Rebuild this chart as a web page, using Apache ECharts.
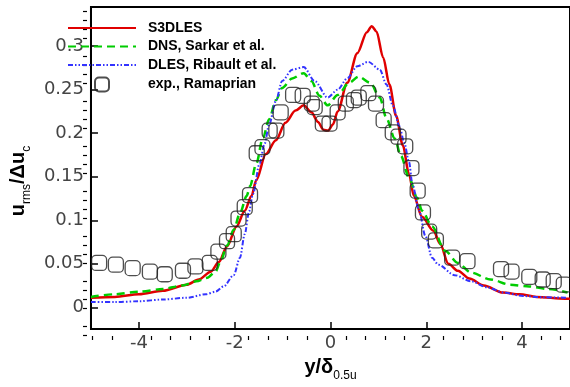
<!DOCTYPE html>
<html>
<head>
<meta charset="utf-8">
<script src="https://cdn.jsdelivr.net/npm/echarts@6/dist/echarts.min.js"></script>
<style>
  html, body { margin: 0; padding: 0; background: #fff; }
  #chart { width: 570px; height: 387px; }
</style>
</head>
<body>
<div id="chart"></div>
<script>
// Streamwise rms velocity across the shear layer, u_rms/Δu_c vs y/δ_0.5u
const seriesNames = ['S3DLES', 'DNS, Sarkar et al.', 'DLES, Ribault et al.', 'exp., Ramaprian'];

const s3dlesY = [-5.0, -4.5, -4.0, -3.5, -3.0, -2.75, -2.5, -2.33, -2.16, -1.96, -1.79, -1.65, -1.55, -1.35, -1.14, -0.94, -0.73, -0.56, -0.40, -0.26, -0.15, -0.05, 0.05, 0.15, 0.35, 0.56, 0.76, 0.86, 0.96, 1.10, 1.23, 1.37, 1.51, 1.64, 1.74, 1.91, 2.15, 2.29, 2.46, 2.66, 2.90, 3.2, 3.6, 3.95, 4.3, 4.9, 5.0];
const s3dlesU = [0.011, 0.012, 0.015, 0.019, 0.026, 0.032, 0.041, 0.052, 0.070, 0.093, 0.111, 0.128, 0.146, 0.176, 0.192, 0.212, 0.226, 0.232, 0.224, 0.213, 0.204, 0.203, 0.210, 0.225, 0.258, 0.292, 0.316, 0.323, 0.317, 0.287, 0.256, 0.220, 0.186, 0.153, 0.128, 0.104, 0.088, 0.073, 0.050, 0.042, 0.033, 0.025, 0.017, 0.015, 0.012, 0.010, 0.010];

const dnsY = [-5.0, -4.5, -4.0, -3.5, -3.1, -2.8, -2.57, -2.40, -2.30, -2.16, -2.02, -1.89, -1.75, -1.68, -1.55, -1.41, -1.28, -1.14, -1.01, -0.80, -0.56, -0.40, -0.23, -0.06, 0.15, 0.39, 0.59, 0.83, 1.03, 1.17, 1.34, 1.47, 1.64, 1.81, 1.91, 2.12, 2.39, 2.66, 2.93, 3.34, 3.75, 4.15, 4.56, 4.95];
const dnsU = [0.012, 0.015, 0.018, 0.021, 0.025, 0.030, 0.034, 0.041, 0.052, 0.071, 0.089, 0.108, 0.128, 0.139, 0.165, 0.195, 0.216, 0.238, 0.252, 0.263, 0.269, 0.260, 0.243, 0.232, 0.244, 0.258, 0.265, 0.258, 0.241, 0.217, 0.194, 0.174, 0.149, 0.126, 0.111, 0.093, 0.065, 0.051, 0.040, 0.032, 0.026, 0.024, 0.021, 0.017];

const dlesY = [-5.0, -4.5, -4.0, -3.5, -3.0, -2.6, -2.4, -2.23, -2.02, -1.89, -1.79, -1.70, -1.62, -1.48, -1.38, -1.28, -1.14, -1.01, -0.80, -0.56, -0.33, -0.06, 0.15, 0.35, 0.56, 0.79, 1.03, 1.17, 1.30, 1.44, 1.54, 1.64, 1.71, 1.85, 1.98, 2.12, 2.25, 2.59, 2.93, 3.27, 3.61, 4.02, 4.43, 4.95];
const dlesU = [0.006, 0.006, 0.007, 0.009, 0.011, 0.015, 0.018, 0.024, 0.037, 0.057, 0.084, 0.110, 0.130, 0.165, 0.187, 0.210, 0.237, 0.260, 0.273, 0.276, 0.260, 0.241, 0.250, 0.263, 0.277, 0.282, 0.273, 0.256, 0.232, 0.208, 0.189, 0.167, 0.141, 0.111, 0.082, 0.057, 0.049, 0.037, 0.030, 0.023, 0.017, 0.013, 0.0115, 0.011];

const expY = [-4.83, -4.48, -4.13, -3.77, -3.46, -3.08, -2.82, -2.52, -2.34, -2.16, -2.02, -1.92, -1.79, -1.68, -1.54, -1.42, -1.27, -1.13, -1.04, -0.78, -0.58, -0.39, -0.33, -0.16, -0.02, 0.15, 0.32, 0.49, 0.59, 0.79, 0.95, 1.11, 1.30, 1.42, 1.56, 1.69, 1.82, 1.93, 2.06, 2.20, 2.54, 2.86, 3.56, 3.78, 4.15, 4.43, 4.66, 4.87];
const expU = [0.051, 0.049, 0.045, 0.041, 0.038, 0.042, 0.047, 0.051, 0.064, 0.076, 0.084, 0.102, 0.115, 0.129, 0.177, 0.184, 0.203, 0.203, 0.224, 0.244, 0.243, 0.234, 0.230, 0.211, 0.211, 0.224, 0.234, 0.238, 0.241, 0.246, 0.234, 0.215, 0.201, 0.196, 0.185, 0.160, 0.134, 0.109, 0.087, 0.077, 0.057, 0.053, 0.044, 0.041, 0.035, 0.032, 0.030, 0.026];

const xTickValues = [-4, -2, 0, 2, 4];
const yTickValues = [0, 0.05, 0.1, 0.15, 0.2, 0.25, 0.3];

const X_MIN = -5, X_MAX = 5;
const Y_MIN = -0.025, Y_MAX = 0.345;

function pairs(xs, ys) { return xs.map((x, i) => [x, ys[i]]); }
function steps(from, to, step) {
  const out = [];
  for (let k = 0; from + k * step <= to + 1e-9; k++) out.push(+(from + k * step).toFixed(4));
  return out;
}
const xMinorTicks = steps(-4.8, 4.8, 0.4).filter(v => !xTickValues.some(t => Math.abs(t - v) < 1e-6));
const yMinorTicks = steps(-0.02, 0.34, 0.01).filter(v => !yTickValues.some(t => Math.abs(t - v) < 1e-6));

const FONT = '"Liberation Sans", Arial, Helvetica, sans-serif';
const TICK_FONT = '"DejaVu Sans", "Liberation Sans", sans-serif';
const markerPath = 'path://M4,0 H10 A4,4 0 0 1 14,4 V10 A4,4 0 0 1 10,14 H4 A4,4 0 0 1 0,10 V4 A4,4 0 0 1 4,0 Z';

const chart = echarts.init(document.getElementById('chart'), null, { renderer: 'canvas' });

const tickLabel = { color: '#444', fontSize: 18, fontFamily: TICK_FONT };
const axisLineStyle = { color: '#000', width: 2 };
const plotRect = { left: 83, top: 7, width: 492, height: 333 };

// legend entries: line series show only their line sample, no point symbol
const legendData = seriesNames.map((name, i) =>
  i < 3 ? { name: name, itemStyle: { opacity: 0 } } : { name: name });

chart.setOption({
  animation: false,
  backgroundColor: '#fff',
  grid: [
    Object.assign({ show: true, borderColor: '#000', borderWidth: 2, backgroundColor: 'transparent' }, plotRect),
    // same rectangle, carries the minor ticks
    Object.assign({ show: false }, plotRect)
  ],
  legend: {
    orient: 'vertical',
    left: 67, top: 21, padding: 0,
    itemWidth: 68, itemHeight: 14, itemGap: 4.5,
    data: legendData,
    textStyle: { fontFamily: FONT, fontWeight: 'bold', fontSize: 14, color: '#000', padding: [0, 0, 0, 7] }
  },
  xAxis: [
    {
      gridIndex: 0, type: 'value', min: X_MIN, max: X_MAX, position: 'bottom',
      axisLine: { show: true, onZero: false, lineStyle: axisLineStyle },
      axisTick: { show: true, inside: true, length: 7, customValues: xTickValues, lineStyle: { color: '#000', width: 1.5 } },
      axisLabel: Object.assign({ customValues: xTickValues, margin: 5 }, tickLabel),
      splitLine: { show: false },
      name: '{b|y/δ}{s|0.5u}',
      nameLocation: 'middle', nameGap: -3,
      nameTextStyle: {
        rich: {
          b: { fontFamily: FONT, fontWeight: 'bold', fontSize: 20, color: '#000', lineHeight: 22, verticalAlign: 'top' },
          s: { fontFamily: FONT, fontSize: 12, color: '#000', padding: [13, 0, 0, 0], verticalAlign: 'top' }
        }
      }
    },
    {
      gridIndex: 1, type: 'value', min: X_MIN, max: X_MAX, position: 'bottom',
      axisLine: { show: false, onZero: false },
      axisTick: { show: true, inside: true, length: 4, customValues: xMinorTicks, lineStyle: { color: '#000', width: 1.2 } },
      axisLabel: { show: false },
      splitLine: { show: false }
    }
  ],
  yAxis: [
    {
      gridIndex: 0, type: 'value', min: Y_MIN, max: Y_MAX, position: 'left',
      axisLine: { show: true, onZero: false, lineStyle: axisLineStyle },
      axisTick: { show: true, inside: true, length: 7, customValues: yTickValues, lineStyle: { color: '#000', width: 1.5 } },
      axisLabel: Object.assign({ customValues: yTickValues, margin: 7 }, tickLabel),
      splitLine: { show: false },
      name: '{b|u}{s|rms}{b|/Δu}{s2|c}',
      nameLocation: 'middle', nameRotate: 90, nameGap: 39,
      nameTextStyle: {
        rich: {
          b: { fontFamily: FONT, fontWeight: 'bold', fontSize: 20, color: '#000', lineHeight: 23, verticalAlign: 'top' },
          s: { fontFamily: FONT, fontSize: 12, color: '#000', padding: [13, 0, 0, 0], verticalAlign: 'top' },
          s2: { fontFamily: FONT, fontSize: 12, color: '#000', padding: [13, 26, 0, 0], verticalAlign: 'top' }
        }
      }
    },
    {
      gridIndex: 1, type: 'value', min: Y_MIN, max: Y_MAX, position: 'left',
      axisLine: { show: false, onZero: false },
      axisTick: { show: true, inside: true, length: 4, customValues: yMinorTicks, lineStyle: { color: '#000', width: 1.2 } },
      axisLabel: { show: false },
      splitLine: { show: false }
    }
  ],
  series: [
    {
      name: seriesNames[0], type: 'line', xAxisIndex: 0, yAxisIndex: 0,
      data: pairs(s3dlesY, s3dlesU),
      showSymbol: false, symbol: 'none', smooth: 0.3, smoothMonotone: 'x',
      lineStyle: { color: '#e00000', width: 2.5, type: 'solid' },
      itemStyle: { color: '#e00000' },
      clip: true, z: 3
    },
    {
      name: seriesNames[1], type: 'line', xAxisIndex: 0, yAxisIndex: 0,
      data: pairs(dnsY, dnsU),
      showSymbol: false, symbol: 'none', smooth: 0.3, smoothMonotone: 'x',
      lineStyle: { color: '#00cc00', width: 2.5, type: [8, 5] },
      itemStyle: { color: '#00cc00' },
      clip: true, z: 3
    },
    {
      name: seriesNames[2], type: 'line', xAxisIndex: 0, yAxisIndex: 0,
      data: pairs(dlesY, dlesU),
      showSymbol: false, symbol: 'none', smooth: 0.3, smoothMonotone: 'x',
      lineStyle: { color: '#3333ff', width: 2, type: [5, 2, 1.5, 2, 1.5, 2] },
      itemStyle: { color: '#3333ff' },
      clip: true, z: 3
    },
    {
      name: seriesNames[3], type: 'scatter', xAxisIndex: 0, yAxisIndex: 0,
      data: pairs(expY, expU),
      symbol: markerPath, symbolSize: 15,
      itemStyle: { color: 'rgba(0,0,0,0)', borderColor: '#222', borderWidth: 1.3 },
      z: 4
    }
  ]
});
</script>
</body>
</html>
